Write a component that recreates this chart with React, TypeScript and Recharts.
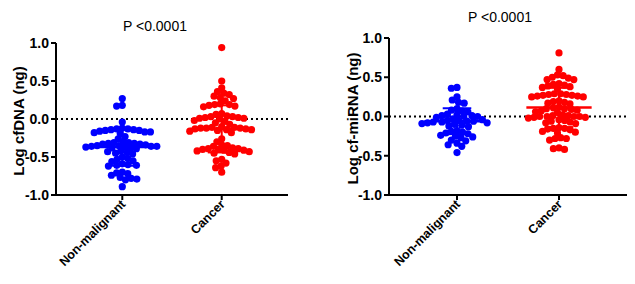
import React from 'react';
import { ScatterChart, Scatter, XAxis, YAxis, ReferenceLine } from 'recharts';

const categories = ['Non-malignant', 'Cancer'];
const yTicks = [-1, -0.5, 0, 0.5, 1];

const cfdnaNonMalignant = [0.27, 0.18, 0.17, -0.04,
  -0.12, -0.13, -0.13, -0.14, -0.14, -0.15, -0.15, -0.16, -0.17, -0.17, -0.18, -0.19,
  -0.23, -0.26,
  -0.30, -0.31, -0.31, -0.32, -0.32, -0.33, -0.33, -0.34,
  -0.35, -0.35, -0.36, -0.36, -0.36, -0.37, -0.37, -0.38, -0.38, -0.39,
  -0.42, -0.43, -0.44, -0.45, -0.46,
  -0.50, -0.52, -0.53, -0.55, -0.56,
  -0.59, -0.60, -0.61, -0.61, -0.62,
  -0.70, -0.71, -0.72, -0.74,
  -0.77, -0.78, -0.79, -0.80,
  -0.89];
const cfdnaCancer = [0.94, 0.50, 0.41, 0.36, 0.34, 0.32, 0.30, 0.28, 0.27, 0.24, 0.20, 0.19, 0.19, 0.18, 0.17, 0.16,
  0.07, 0.06, 0.04, 0.03, 0.03, 0.02, 0.02, 0.01, 0.01, 0.00, -0.02, -0.03, -0.05, -0.07,
  -0.10, -0.11, -0.11, -0.12, -0.12, -0.12, -0.13, -0.13, -0.14, -0.14, -0.15, -0.16, -0.18,
  -0.26, -0.30, -0.34, -0.35, -0.36,
  -0.38, -0.39, -0.39, -0.40, -0.40, -0.41, -0.41, -0.42, -0.43, -0.44, -0.45, -0.46,
  -0.53, -0.55, -0.58, -0.62, -0.64, -0.70];
const cfdnaMean = [-0.37, -0.13];
const cfdnaSD = [0.245, 0.31];

const mirnaNonMalignant = [0.37, 0.36, 0.25, 0.21, 0.18, 0.17,
  0.10, 0.08, 0.07, 0.06,
  0.03, 0.02, 0.01, 0.01, 0.00, 0.00, -0.01,
  -0.03, -0.04, -0.05, -0.05, -0.06, -0.06, -0.07, -0.07, -0.08, -0.08, -0.09, -0.10, -0.11, -0.12, -0.13,
  -0.18, -0.19, -0.20, -0.21, -0.22,
  -0.24, -0.25, -0.26, -0.27,
  -0.30, -0.31, -0.34, -0.36, -0.38, -0.46];
const mirnaCancer = [0.81, 0.60, 0.53, 0.52, 0.50, 0.49, 0.47, 0.47,
  0.42, 0.41, 0.40, 0.39, 0.38, 0.37, 0.35,
  0.29, 0.29, 0.28, 0.28, 0.27, 0.27, 0.26, 0.26, 0.25, 0.25,
  0.20, 0.19, 0.18, 0.17, 0.16,
  0.12, 0.11, 0.10, 0.10, 0.09, 0.08, 0.07, 0.06, 0.05,
  0.02, 0.01, 0.01, 0.00, 0.00, 0.00, 0.00, -0.01, -0.01, -0.02,
  -0.04, -0.05, -0.06, -0.07, -0.08, -0.09,
  -0.14, -0.15, -0.15, -0.16, -0.17,
  -0.19, -0.20, -0.21,
  -0.27, -0.28, -0.28, -0.30,
  -0.40, -0.41, -0.42];
const mirnaMean = [-0.06, 0.115];
const mirnaSD = [0.165, 0.25];

const FONT = '"Liberation Sans", Arial, sans-serif';
const BLUE = '#0000FF';
const RED = '#FF0000';

function swarm(values: number[], center: number, pxX: number, pxY: number, d: number) {
  const order = values.map((_, i) => i).sort((a, b) => values[b] - values[a]);
  const placed: { x: number; y: number }[] = [];
  const out: { x: number; y: number }[] = new Array(values.length);
  for (const i of order) {
    const y = values[i] * pxY;
    const iv: [number, number][] = [];
    for (const p of placed) {
      const dy = Math.abs(p.y - y);
      if (dy < d) {
        const w = Math.sqrt(d * d - dy * dy);
        iv.push([p.x - w, p.x + w]);
      }
    }
    const cands = [0];
    iv.forEach(([a, b]) => cands.push(a, b));
    cands.sort((a, b) => Math.abs(a) - Math.abs(b));
    let x = 0;
    for (const c of cands) {
      if (iv.every(([a, b]) => c <= a + 1e-6 || c >= b - 1e-6)) { x = c; break; }
    }
    placed.push({ x, y });
    out[i] = { x: center + x / pxX, y: values[i] };
  }
  return out;
}

const Dot = (color: string) => (props: any) => (
  <circle cx={props.cx} cy={props.cy} r={3.6} fill={color} />
);

const XTick = (props: any) => {
  const { x, y, payload } = props;
  return (
    <g transform={`translate(${x + 4},${y + 3})`}>
      <text x={0} y={0} textAnchor="end" transform="rotate(-45)" fontFamily={FONT}
        fontWeight="bold" fontSize={12.5} fill="#000">{categories[payload.value - 1]}</text>
    </g>
  );
};

const YLabel = (text: string, lx: number, cy: number) => () => (
  <text x={lx} y={cy} transform={`rotate(-90 ${lx} ${cy})`} textAnchor="middle"
    dominantBaseline="central" fontFamily={FONT} fontWeight="bold" fontSize={15} fill="#000">{text}</text>
);

type PanelProps = {
  left: number; width: number; height: number;
  plotLeft: number; plotRight: number; plotTop: number; plotBottom: number;
  groups: number[][]; means: number[]; sds: number[];
  yLabel: string; yLabelX: number; title: string; titleX: number; titleY: number;
};

const Panel = (p: PanelProps) => {
  const domain: [number, number] = [1 / 3, 8 / 3];
  const pxX = (p.plotRight - p.plotLeft) / (domain[1] - domain[0]);
  const pxY = (p.plotBottom - p.plotTop) / 2;
  const colors = [BLUE, RED];
  const data = p.groups.map((g, i) => swarm(g, i + 1, pxX, pxY, 5.7));
  const cy = (p.plotTop + p.plotBottom) / 2 + 2;
  return (
    <div style={{ position: 'absolute', left: p.left, top: 0, width: p.width, height: p.height }}>
      <div style={{ position: 'absolute', left: p.titleX - 60, width: 120, top: p.titleY, textAlign: 'center',
        fontFamily: FONT, fontSize: 14, color: '#000' }}>{p.title}</div>
      <ScatterChart width={p.width} height={p.height}
        margin={{ top: p.plotTop, right: p.width - p.plotRight, left: 0, bottom: 0 }}>
        <XAxis type="number" dataKey="x" domain={domain} ticks={[1, 2]} allowDataOverflow
          height={p.height - p.plotBottom} axisLine={{ stroke: '#000', strokeWidth: 2 }}
          tickLine={{ stroke: '#000', strokeWidth: 2 }} tickSize={5} tick={<XTick />} interval={0} />
        <YAxis type="number" dataKey="y" domain={[-1, 1]} ticks={yTicks} width={p.plotLeft}
          axisLine={{ stroke: '#000', strokeWidth: 2 }} tickLine={{ stroke: '#000', strokeWidth: 2 }} tickSize={5}
          tickFormatter={(v: number) => v.toFixed(1)} interval={0}
          tick={{ fill: '#000', fontSize: 14, fontWeight: 'bold', fontFamily: FONT }}
          label={{ content: YLabel(p.yLabel, p.yLabelX, cy) } as any} />
        <ReferenceLine y={0} stroke="#000" strokeWidth={2} strokeDasharray="2 3" />
        {data.map((d, i) => (
          <Scatter key={i} data={d} shape={Dot(colors[i])} isAnimationActive={false} />
        ))}
        {p.means.map((m, i) => (
          <ReferenceLine key={'m' + i} segment={[{ x: i + 1 - 0.32, y: m }, { x: i + 1 + 0.32, y: m }]}
            stroke={colors[i]} strokeWidth={2.5} ifOverflow="visible" />
        ))}
        {p.means.map((m, i) => (
          <ReferenceLine key={'v' + i} segment={[{ x: i + 1, y: m - p.sds[i] }, { x: i + 1, y: m + p.sds[i] }]}
            stroke={colors[i]} strokeWidth={2} ifOverflow="visible" />
        ))}
        {p.means.map((m, i) => (
          <ReferenceLine key={'u' + i} segment={[{ x: i + 1 - 0.14, y: m + p.sds[i] }, { x: i + 1 + 0.14, y: m + p.sds[i] }]}
            stroke={colors[i]} strokeWidth={2} ifOverflow="visible" />
        ))}
        {p.means.map((m, i) => (
          <ReferenceLine key={'l' + i} segment={[{ x: i + 1 - 0.14, y: m - p.sds[i] }, { x: i + 1 + 0.14, y: m - p.sds[i] }]}
            stroke={colors[i]} strokeWidth={2} ifOverflow="visible" />
        ))}
      </ScatterChart>
    </div>
  );
}

export default function App() {
  return (
    <div style={{ position: 'absolute', left: 0, top: 0, width: 635, height: 284, background: '#fff' }}>
      <Panel left={0} width={320} height={284} plotLeft={56} plotRight={288} plotTop={43} plotBottom={195}
        groups={[cfdnaNonMalignant, cfdnaCancer]} means={cfdnaMean} sds={cfdnaSD}
        yLabel="Log cfDNA (ng)" yLabelX={18} title="P <0.0001" titleX={155} titleY={18} />
      <Panel left={320} width={315} height={284} plotLeft={69} plotRight={307} plotTop={38} plotBottom={195}
        groups={[mirnaNonMalignant, mirnaCancer]} means={mirnaMean} sds={mirnaSD}
        yLabel="Log cf-miRNA (ng)" yLabelX={32} title="P <0.0001" titleX={180} titleY={9} />
    </div>
  );
}
